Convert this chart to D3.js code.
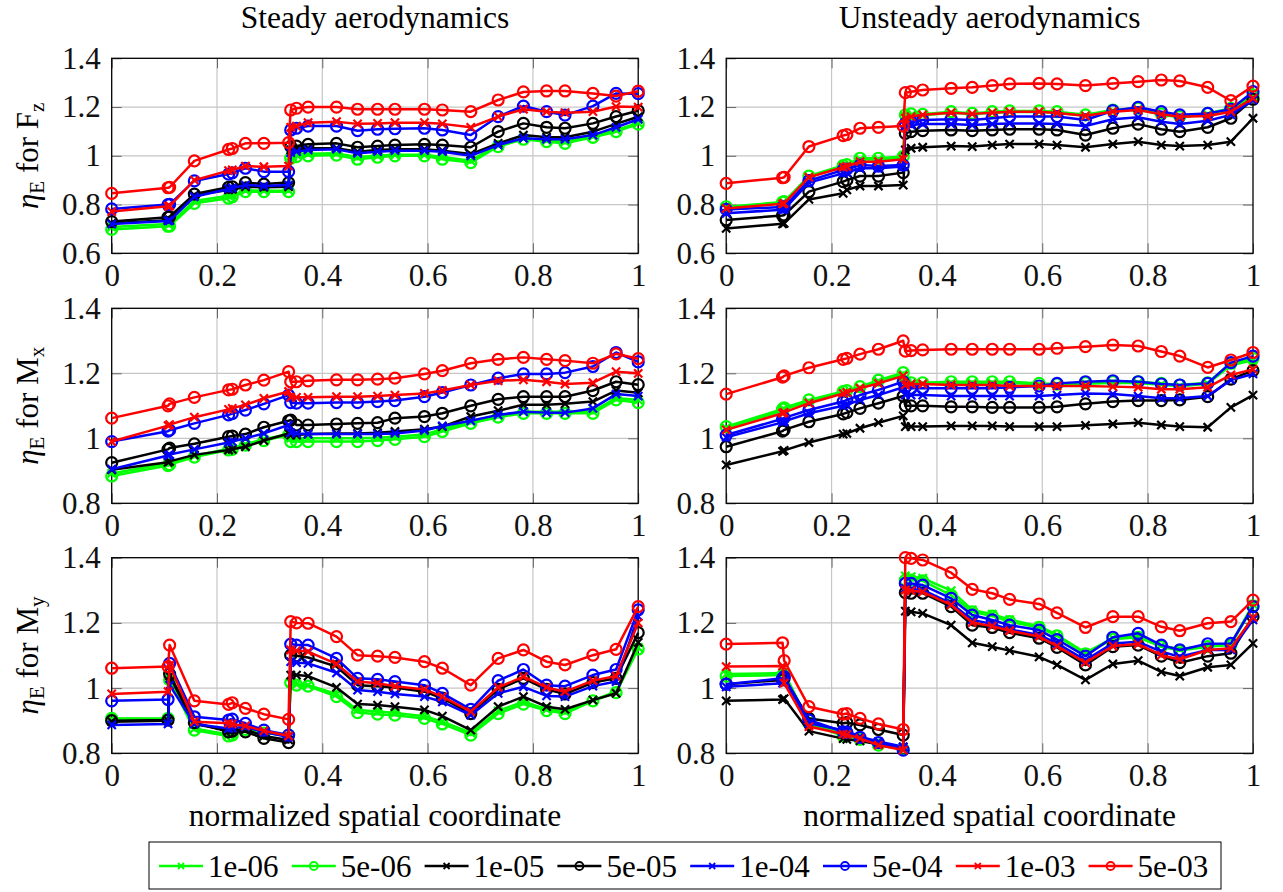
<!DOCTYPE html>
<html>
<head>
<meta charset="utf-8">
<script src="https://cdnjs.cloudflare.com/ajax/libs/d3/7.8.5/d3.min.js"></script>
<style>
body { margin: 0; background: #fff; }
svg text { font-family: "Liberation Serif", "DejaVu Serif", "Noto Serif", serif; }
</style>
</head>
<body>
<div id="wrapper"></div>
<script>
width = 1283
height = 892

// normalized spatial coordinate of the sample points (same for all panels)
var xCoord = [0, 0.107, 0.110, 0.157, 0.222, 0.229, 0.254, 0.289, 0.336, 0.340, 0.351, 0.373, 0.427,
    0.467, 0.505, 0.538, 0.594, 0.628, 0.682, 0.734, 0.782, 0.826, 0.861, 0.914, 0.958, 1.0]

var seriesNames = ["1e-06", "5e-06", "1e-05", "5e-05", "1e-04", "5e-04", "1e-03", "5e-03"]
var seriesColors = ["#00ff00", "#00ff00", "#000000", "#000000", "#0000ff", "#0000ff", "#ff0000", "#ff0000"]
var seriesMarks = ["x", "o", "x", "o", "x", "o", "x", "o"]

var xTicks = [0, 0.2, 0.4, 0.6, 0.8, 1]
var yTicksFz = [0.6, 0.8, 1, 1.2, 1.4]
var yTicksM = [0.8, 1, 1.2, 1.4]

// one row per series, in the order of seriesNames
var fzSteady = [
    [0.708, 0.720, 0.721, 0.815, 0.836, 0.840, 0.858, 0.857, 0.858, 1.000, 1.005, 1.008, 1.010, 0.995, 1.000, 1.004, 1.004, 0.995, 0.980, 1.045, 1.073, 1.063, 1.058, 1.080, 1.105, 1.135],
    [0.698, 0.711, 0.712, 0.805, 0.826, 0.832, 0.853, 0.853, 0.853, 0.990, 0.997, 1.000, 1.003, 0.986, 0.994, 1.000, 1.000, 0.986, 0.972, 1.038, 1.068, 1.058, 1.051, 1.076, 1.099, 1.130],
    [0.723, 0.736, 0.737, 0.839, 0.860, 0.862, 0.873, 0.871, 0.873, 1.024, 1.027, 1.031, 1.031, 1.017, 1.024, 1.027, 1.027, 1.021, 1.007, 1.051, 1.085, 1.076, 1.076, 1.099, 1.131, 1.160],
    [0.730, 0.748, 0.750, 0.843, 0.871, 0.873, 0.890, 0.884, 0.890, 1.038, 1.040, 1.047, 1.051, 1.035, 1.040, 1.044, 1.047, 1.044, 1.035, 1.099, 1.133, 1.117, 1.113, 1.133, 1.161, 1.185],
    [0.720, 0.733, 0.734, 0.832, 0.864, 0.868, 0.880, 0.876, 0.880, 1.013, 1.017, 1.024, 1.027, 1.010, 1.017, 1.021, 1.021, 1.017, 1.000, 1.044, 1.072, 1.068, 1.068, 1.085, 1.117, 1.150],
    [0.782, 0.800, 0.801, 0.897, 0.925, 0.930, 0.949, 0.935, 0.935, 1.106, 1.113, 1.122, 1.122, 1.103, 1.109, 1.111, 1.113, 1.106, 1.085, 1.161, 1.204, 1.181, 1.167, 1.204, 1.256, 1.255],
    [0.771, 0.793, 0.794, 0.900, 0.939, 0.942, 0.958, 0.955, 0.958, 1.117, 1.122, 1.136, 1.140, 1.131, 1.133, 1.136, 1.136, 1.131, 1.117, 1.161, 1.191, 1.181, 1.177, 1.181, 1.202, 1.200],
    [0.846, 0.869, 0.871, 0.979, 1.026, 1.030, 1.051, 1.051, 1.054, 1.188, 1.195, 1.200, 1.200, 1.191, 1.191, 1.191, 1.191, 1.188, 1.181, 1.229, 1.262, 1.266, 1.266, 1.256, 1.245, 1.265]
]
var fzUnsteady = [
    [0.787, 0.806, 0.808, 0.913, 0.956, 0.960, 0.985, 0.985, 0.992, 1.162, 1.166, 1.166, 1.177, 1.171, 1.177, 1.180, 1.180, 1.177, 1.164, 1.184, 1.191, 1.168, 1.158, 1.170, 1.190, 1.245],
    [0.791, 0.810, 0.812, 0.917, 0.960, 0.964, 0.990, 0.990, 0.997, 1.168, 1.172, 1.170, 1.181, 1.174, 1.181, 1.184, 1.184, 1.181, 1.168, 1.188, 1.195, 1.172, 1.161, 1.174, 1.195, 1.250],
    [0.702, 0.721, 0.723, 0.821, 0.846, 0.860, 0.876, 0.876, 0.880, 1.024, 1.031, 1.035, 1.040, 1.038, 1.044, 1.048, 1.048, 1.044, 1.035, 1.048, 1.058, 1.044, 1.040, 1.044, 1.058, 1.154],
    [0.737, 0.755, 0.757, 0.853, 0.894, 0.900, 0.917, 0.917, 0.931, 1.092, 1.099, 1.103, 1.106, 1.103, 1.106, 1.109, 1.109, 1.106, 1.085, 1.113, 1.130, 1.109, 1.099, 1.117, 1.154, 1.232],
    [0.764, 0.779, 0.780, 0.890, 0.928, 0.931, 0.949, 0.949, 0.956, 1.122, 1.126, 1.130, 1.130, 1.126, 1.130, 1.133, 1.133, 1.130, 1.122, 1.150, 1.158, 1.140, 1.130, 1.144, 1.168, 1.229],
    [0.780, 0.790, 0.791, 0.898, 0.942, 0.945, 0.962, 0.958, 0.962, 1.133, 1.140, 1.147, 1.150, 1.147, 1.154, 1.161, 1.161, 1.161, 1.147, 1.185, 1.199, 1.181, 1.168, 1.174, 1.191, 1.263],
    [0.784, 0.803, 0.805, 0.912, 0.953, 0.956, 0.976, 0.976, 0.986, 1.154, 1.161, 1.168, 1.177, 1.172, 1.177, 1.181, 1.181, 1.176, 1.164, 1.181, 1.188, 1.170, 1.160, 1.163, 1.181, 1.236],
    [0.887, 0.910, 0.912, 1.038, 1.083, 1.087, 1.113, 1.117, 1.122, 1.259, 1.263, 1.270, 1.277, 1.281, 1.288, 1.295, 1.297, 1.295, 1.288, 1.297, 1.304, 1.311, 1.307, 1.281, 1.226, 1.286]
]
var mxSteady = [
    [0.892, 0.923, 0.926, 0.946, 0.968, 0.970, 0.982, 0.997, 1.013, 1.001, 1.000, 1.000, 1.000, 1.000, 1.002, 1.005, 1.012, 1.028, 1.052, 1.070, 1.082, 1.082, 1.082, 1.083, 1.124, 1.118],
    [0.884, 0.916, 0.919, 0.942, 0.964, 0.966, 0.979, 0.993, 1.010, 0.990, 0.990, 0.990, 0.990, 0.990, 0.993, 0.997, 1.005, 1.021, 1.046, 1.065, 1.077, 1.077, 1.077, 1.077, 1.118, 1.110],
    [0.903, 0.926, 0.929, 0.949, 0.964, 0.966, 0.974, 0.993, 1.015, 1.010, 1.010, 1.013, 1.015, 1.015, 1.017, 1.021, 1.028, 1.036, 1.067, 1.085, 1.103, 1.103, 1.106, 1.113, 1.147, 1.140],
    [0.925, 0.966, 0.970, 0.983, 1.005, 1.007, 1.013, 1.034, 1.054, 1.056, 1.041, 1.041, 1.044, 1.046, 1.048, 1.062, 1.067, 1.077, 1.100, 1.120, 1.128, 1.128, 1.128, 1.147, 1.174, 1.165],
    [0.905, 0.947, 0.950, 0.966, 0.987, 0.990, 1.000, 1.015, 1.041, 1.017, 1.015, 1.013, 1.013, 1.013, 1.013, 1.015, 1.024, 1.038, 1.054, 1.072, 1.082, 1.079, 1.079, 1.092, 1.136, 1.130],
    [0.990, 1.022, 1.025, 1.046, 1.072, 1.076, 1.087, 1.106, 1.133, 1.110, 1.108, 1.108, 1.110, 1.110, 1.113, 1.116, 1.128, 1.141, 1.164, 1.185, 1.198, 1.198, 1.202, 1.221, 1.264, 1.235],
    [0.990, 1.039, 1.042, 1.065, 1.089, 1.092, 1.103, 1.123, 1.144, 1.126, 1.126, 1.126, 1.128, 1.128, 1.130, 1.133, 1.138, 1.147, 1.164, 1.177, 1.180, 1.174, 1.167, 1.171, 1.205, 1.200],
    [1.062, 1.100, 1.106, 1.126, 1.149, 1.151, 1.164, 1.179, 1.205, 1.174, 1.174, 1.177, 1.180, 1.180, 1.182, 1.185, 1.198, 1.208, 1.231, 1.243, 1.249, 1.243, 1.239, 1.231, 1.260, 1.245]
]
var mxUnsteady = [
    [1.031, 1.085, 1.089, 1.113, 1.140, 1.143, 1.156, 1.175, 1.197, 1.170, 1.168, 1.168, 1.170, 1.170, 1.170, 1.170, 1.166, 1.164, 1.168, 1.170, 1.170, 1.165, 1.160, 1.168, 1.225, 1.240],
    [1.036, 1.090, 1.094, 1.118, 1.144, 1.147, 1.159, 1.179, 1.202, 1.174, 1.171, 1.171, 1.174, 1.174, 1.174, 1.174, 1.169, 1.167, 1.171, 1.174, 1.174, 1.169, 1.164, 1.171, 1.231, 1.246],
    [0.918, 0.960, 0.963, 0.987, 1.013, 1.015, 1.031, 1.048, 1.069, 1.036, 1.036, 1.036, 1.038, 1.038, 1.038, 1.036, 1.036, 1.036, 1.040, 1.044, 1.048, 1.041, 1.036, 1.034, 1.095, 1.133],
    [0.974, 1.022, 1.026, 1.051, 1.075, 1.079, 1.092, 1.108, 1.130, 1.100, 1.100, 1.100, 1.097, 1.097, 1.095, 1.095, 1.095, 1.097, 1.106, 1.113, 1.116, 1.116, 1.118, 1.128, 1.182, 1.208],
    [1.003, 1.049, 1.052, 1.077, 1.100, 1.103, 1.118, 1.133, 1.157, 1.133, 1.133, 1.133, 1.130, 1.130, 1.130, 1.130, 1.130, 1.133, 1.138, 1.136, 1.130, 1.123, 1.123, 1.130, 1.179, 1.198],
    [1.010, 1.060, 1.063, 1.087, 1.113, 1.118, 1.133, 1.149, 1.174, 1.157, 1.154, 1.154, 1.154, 1.154, 1.154, 1.157, 1.161, 1.169, 1.174, 1.177, 1.174, 1.167, 1.164, 1.169, 1.233, 1.253],
    [1.026, 1.077, 1.080, 1.108, 1.138, 1.141, 1.154, 1.169, 1.192, 1.164, 1.167, 1.167, 1.164, 1.164, 1.164, 1.161, 1.161, 1.161, 1.161, 1.159, 1.157, 1.151, 1.151, 1.157, 1.195, 1.212],
    [1.136, 1.188, 1.192, 1.217, 1.243, 1.246, 1.259, 1.274, 1.300, 1.268, 1.270, 1.272, 1.274, 1.274, 1.274, 1.274, 1.274, 1.277, 1.282, 1.287, 1.284, 1.267, 1.253, 1.218, 1.241, 1.264]
]
var mySteady = [
    [0.905, 0.906, 1.030, 0.876, 0.858, 0.860, 0.875, 0.864, 0.853, 1.015, 1.012, 1.009, 0.982, 0.933, 0.928, 0.924, 0.914, 0.897, 0.863, 0.930, 0.958, 0.935, 0.928, 0.963, 0.989, 1.125],
    [0.907, 0.907, 1.025, 0.871, 0.853, 0.856, 0.873, 0.862, 0.856, 1.017, 1.009, 1.006, 0.974, 0.925, 0.920, 0.917, 0.907, 0.890, 0.856, 0.922, 0.951, 0.931, 0.922, 0.961, 0.986, 1.120],
    [0.897, 0.900, 1.037, 0.890, 0.870, 0.871, 0.873, 0.853, 0.841, 1.040, 1.040, 1.037, 1.002, 0.951, 0.948, 0.943, 0.933, 0.914, 0.871, 0.943, 0.974, 0.943, 0.935, 0.963, 0.984, 1.140],
    [0.900, 0.902, 1.043, 0.894, 0.866, 0.868, 0.866, 0.846, 0.833, 1.101, 1.099, 1.094, 1.066, 1.009, 1.006, 1.002, 0.989, 0.969, 0.922, 0.996, 1.030, 0.996, 0.982, 1.017, 1.030, 1.170],
    [0.887, 0.890, 1.009, 0.890, 0.876, 0.878, 0.881, 0.865, 0.850, 1.081, 1.078, 1.076, 1.047, 0.994, 0.989, 0.982, 0.974, 0.958, 0.917, 0.984, 1.004, 0.976, 0.974, 1.006, 1.020, 1.220],
    [0.961, 0.965, 1.076, 0.912, 0.902, 0.905, 0.892, 0.871, 0.856, 1.135, 1.132, 1.132, 1.091, 1.030, 1.027, 1.020, 1.009, 0.984, 0.935, 1.023, 1.057, 1.009, 1.006, 1.040, 1.057, 1.240],
    [0.982, 0.989, 1.070, 0.897, 0.892, 0.890, 0.884, 0.869, 0.853, 1.117, 1.115, 1.112, 1.074, 1.020, 1.015, 1.006, 0.996, 0.974, 0.928, 1.002, 1.035, 1.002, 0.989, 1.023, 1.037, 1.200],
    [1.061, 1.066, 1.132, 0.961, 0.950, 0.955, 0.938, 0.920, 0.904, 1.204, 1.200, 1.199, 1.158, 1.101, 1.098, 1.094, 1.081, 1.061, 1.009, 1.091, 1.117, 1.081, 1.071, 1.101, 1.119, 1.250]
]
var myUnsteady = [
    [1.043, 1.046, 1.048, 0.896, 0.858, 0.860, 0.848, 0.830, 0.815, 1.344, 1.342, 1.337, 1.299, 1.240, 1.227, 1.210, 1.190, 1.163, 1.108, 1.153, 1.160, 1.130, 1.120, 1.130, 1.135, 1.257],
    [1.037, 1.040, 1.042, 0.892, 0.853, 0.855, 0.843, 0.825, 0.812, 1.331, 1.331, 1.329, 1.285, 1.234, 1.221, 1.204, 1.186, 1.160, 1.105, 1.150, 1.156, 1.127, 1.115, 1.127, 1.132, 1.252],
    [0.961, 0.965, 0.968, 0.868, 0.845, 0.843, 0.838, 0.828, 0.820, 1.236, 1.234, 1.229, 1.193, 1.139, 1.127, 1.115, 1.096, 1.071, 1.025, 1.074, 1.084, 1.050, 1.037, 1.064, 1.071, 1.137],
    [1.012, 1.025, 1.030, 0.907, 0.892, 0.894, 0.887, 0.873, 0.856, 1.293, 1.291, 1.291, 1.250, 1.193, 1.186, 1.170, 1.153, 1.125, 1.071, 1.127, 1.132, 1.098, 1.078, 1.098, 1.107, 1.219],
    [1.004, 1.015, 1.020, 0.892, 0.871, 0.869, 0.851, 0.836, 0.820, 1.306, 1.303, 1.301, 1.260, 1.209, 1.197, 1.180, 1.163, 1.137, 1.086, 1.137, 1.142, 1.112, 1.096, 1.117, 1.117, 1.209],
    [1.012, 1.030, 1.035, 0.902, 0.866, 0.864, 0.849, 0.833, 0.810, 1.321, 1.321, 1.316, 1.275, 1.224, 1.209, 1.193, 1.178, 1.149, 1.098, 1.156, 1.168, 1.132, 1.117, 1.136, 1.137, 1.250],
    [1.066, 1.068, 1.015, 0.882, 0.859, 0.857, 0.846, 0.825, 0.810, 1.301, 1.299, 1.295, 1.255, 1.201, 1.190, 1.176, 1.158, 1.129, 1.078, 1.129, 1.135, 1.101, 1.088, 1.117, 1.122, 1.217],
    [1.135, 1.139, 1.084, 0.943, 0.920, 0.922, 0.907, 0.890, 0.873, 1.400, 1.398, 1.393, 1.354, 1.303, 1.291, 1.272, 1.258, 1.231, 1.186, 1.219, 1.219, 1.188, 1.176, 1.199, 1.204, 1.270]
]

var colLeft = [111.7, 726.2]
var colRight = [638.2, 1253]
var rowTop = [58.3, 308.3, 557.7]
var rowBottom = [253.3, 503.3, 753.3]

var panels = [
    { data: fzSteady, col: 0, row: 0, yDomain: [0.6, 1.4], yTicks: yTicksFz, q: "F", sub: "z" },
    { data: fzUnsteady, col: 1, row: 0, yDomain: [0.6, 1.4], yTicks: yTicksFz },
    { data: mxSteady, col: 0, row: 1, yDomain: [0.8, 1.4], yTicks: yTicksM, q: "M", sub: "x" },
    { data: mxUnsteady, col: 1, row: 1, yDomain: [0.8, 1.4], yTicks: yTicksM },
    { data: mySteady, col: 0, row: 2, yDomain: [0.8, 1.4], yTicks: yTicksM, q: "M", sub: "y" },
    { data: myUnsteady, col: 1, row: 2, yDomain: [0.8, 1.4], yTicks: yTicksM }
]
var titles = ["Steady aerodynamics", "Unsteady aerodynamics"]

const svg = d3.select("#wrapper").append("svg")
    .attr("width", width)
    .attr("height", height)

function drawMark(g, type, color, size, sw) {
    if (type == "o") {
        g.append("circle").attr("r", size).attr("fill", "none")
            .attr("stroke", color).attr("stroke-width", sw)
    } else {
        var s = size * 0.75
        g.append("path").attr("d", `M${-s},${-s}L${s},${s}M${-s},${s}L${s},${-s}`)
            .attr("fill", "none").attr("stroke", color).attr("stroke-width", sw)
    }
}

panels.forEach(p => {
    var x = d3.scaleLinear().domain([0, 1]).range([colLeft[p.col], colRight[p.col]])
    var y = d3.scaleLinear().domain(p.yDomain).range([rowBottom[p.row], rowTop[p.row]])
    var g = svg.append("g")

    // grid
    g.append("g").selectAll("line").data(xTicks.slice(1, -1)).join("line")
        .attr("x1", d => x(d)).attr("x2", d => x(d))
        .attr("y1", y.range()[0]).attr("y2", y.range()[1])
        .attr("stroke", "#c6c6c6").attr("stroke-width", 1.2)
    g.append("g").selectAll("line").data(p.yTicks.slice(1, -1)).join("line")
        .attr("y1", d => y(d)).attr("y2", d => y(d))
        .attr("x1", x.range()[0]).attr("x2", x.range()[1])
        .attr("stroke", "#c6c6c6").attr("stroke-width", 1.2)

    // axes with inward ticks on all four sides
    g.append("g").attr("transform", `translate(0,${y.range()[0]})`)
        .call(d3.axisBottom(x).tickValues(xTicks).tickSize(-10).tickPadding(11).tickSizeOuter(0).tickFormat(d => String(d)))
    g.append("g").attr("transform", `translate(${x.range()[0]},0)`)
        .call(d3.axisLeft(y).tickValues(p.yTicks).tickSize(-10).tickPadding(11).tickSizeOuter(0).tickFormat(d => String(d)))
    g.append("g").attr("transform", `translate(0,${y.range()[1]})`)
        .call(d3.axisTop(x).tickValues(xTicks).tickSize(-10).tickSizeOuter(0).tickFormat(""))
    g.append("g").attr("transform", `translate(${x.range()[1]},0)`)
        .call(d3.axisRight(y).tickValues(p.yTicks).tickSize(-10).tickSizeOuter(0).tickFormat(""))
    g.selectAll(".domain").remove()
    g.selectAll(".tick line").attr("stroke", "#666").attr("stroke-width", 1)
    g.selectAll(".tick text").attr("font-size", 31).attr("fill", "#111")

    g.append("rect")
        .attr("x", x.range()[0]).attr("y", y.range()[1])
        .attr("width", x.range()[1] - x.range()[0]).attr("height", y.range()[0] - y.range()[1])
        .attr("fill", "none").attr("stroke", "#000").attr("stroke-width", 1.3)

    // series, drawn in legend order so the 5e-03 curve ends on top
    var line = d3.line().x((d, i) => x(xCoord[i])).y(d => y(d))
    p.data.forEach((vals, s) => {
        var sg = g.append("g")
        sg.append("path").attr("d", line(vals))
            .attr("fill", "none").attr("stroke", seriesColors[s])
            .attr("stroke-width", 2.5).attr("stroke-linejoin", "round")
        sg.selectAll("g").data(vals).join("g")
            .attr("transform", (d, i) => `translate(${x(xCoord[i])},${y(d)})`)
            .each(function () { drawMark(d3.select(this), seriesMarks[s], seriesColors[s], 5.5, 2.2) })
    })

    if (p.row == 0) {
        svg.append("text")
            .attr("x", (x.range()[0] + x.range()[1]) / 2).attr("y", 28)
            .attr("text-anchor", "middle").attr("font-size", 31.5)
            .text(titles[p.col])
    }
    if (p.row == 2) {
        svg.append("text")
            .attr("x", (x.range()[0] + x.range()[1]) / 2).attr("y", 826)
            .attr("text-anchor", "middle").attr("font-size", 31.5)
            .text("normalized spatial coordinate")
    }
    if (p.col == 0) {
        var lab = svg.append("text")
            .attr("transform", `translate(38,${(y.range()[0] + y.range()[1]) / 2}) rotate(-90)`)
            .attr("text-anchor", "middle").attr("font-size", 31)
        lab.append("tspan").attr("font-style", "italic").text("η")
        lab.append("tspan").attr("font-size", 21).attr("dy", 6).text("E")
        lab.append("tspan").attr("dy", -6).text(" for " + p.q)
        lab.append("tspan").attr("font-size", 21).attr("dy", 6).text(p.sub)
    }
})

// legend
var legend = svg.append("g")
legend.append("rect")
    .attr("x", 149).attr("y", 842).attr("width", 1072).attr("height", 47)
    .attr("fill", "#fff").attr("stroke", "#000").attr("stroke-width", 1)

var items = legend.selectAll("g.item").data(seriesNames).join("g")
    .attr("class", "item")
    .attr("transform", (d, i) => `translate(${159 + i * 132.8},866)`)
items.append("line").attr("x1", 0).attr("x2", 44)
    .attr("stroke", (d, i) => seriesColors[i]).attr("stroke-width", 2.4)
items.each(function (d, i) {
    var m = d3.select(this).append("g").attr("transform", "translate(22,0)")
    drawMark(m, seriesMarks[i], seriesColors[i], 4, 1.8)
})
items.append("text").attr("x", 49).attr("y", 11)
    .attr("font-size", 31)
    .text(d => d)
</script>
</body>
</html>
